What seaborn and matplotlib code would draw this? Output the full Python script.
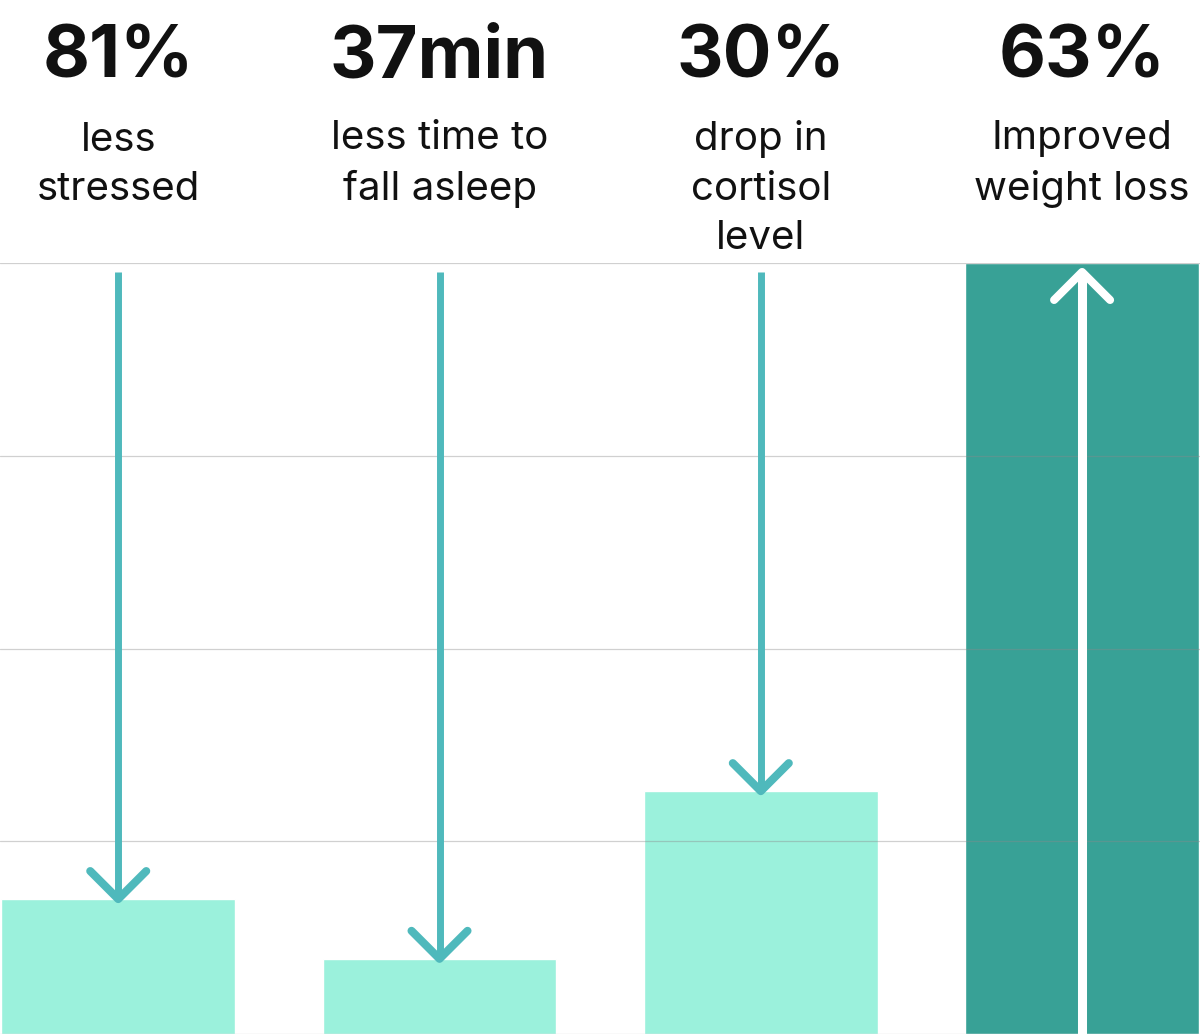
import numpy as np
import pandas as pd
import matplotlib
matplotlib.use("Agg")
import matplotlib.pyplot as plt
import matplotlib.transforms as mtransforms
import seaborn as sns

# ---------------- Data ----------------
headlines = ["81%", "37min", "30%", "63%"]
captions = ["less\nstressed", "less time to\nfall asleep", "drop in\ncortisol\nlevel", "Improved\nweight loss"]
bar_values = [0.70, 0.39, 1.26, 4.0]
directions = ["down", "down", "down", "up"]

df = pd.DataFrame({"metric": headlines, "value": bar_values, "direction": directions})

# ---------------- Style ----------------
sns.set_theme(style="white")
plt.rcParams["font.family"] = ["Inter", "DejaVu Sans"]

MINT = "#9bf1dc"
DARK = "#38a196"
ARROW = "#4fb9bc"
bar_colors = [DARK if d == "up" else MINT for d in directions]

fig = plt.figure(figsize=(12, 10.34), dpi=100)
ax = fig.add_axes([0, 0, 1, 771 / 1034])

sns.barplot(data=df, x="metric", y="value", hue="metric", palette=bar_colors,
            width=0.728, saturation=1, legend=False, ax=ax)

ax.set_xlim(-0.368, 3.367)
ax.set_ylim(0, 4)
ax.set_yticks([0, 1, 2, 3, 4])
ax.set_xticks([])
ax.tick_params(length=0, labelleft=False)
ax.set_xlabel("")
ax.set_ylabel("")
sns.despine(ax=ax, left=True, bottom=True)
ax.yaxis.grid(True, color="#8a8a8a", alpha=0.4, lw=0.9)
ax.set_axisbelow(False)

# ---------------- Arrows ----------------
# pixel -> data helpers (1 category = ~321 px, 1 y unit = ~193 px)
ux = (ax.get_xlim()[1] - ax.get_xlim()[0]) / 1200
uy = 4 / 771
top = 4 - 9 * uy
dx, dy = 28 * ux, 28 * uy

for i, (v, d) in enumerate(zip(bar_values, directions)):
    if d == "down":
        ax.plot([i, i], [top, v], color=ARROW, lw=5.0, solid_capstyle="butt", zorder=3)
        ax.plot([i - dx, i, i + dx], [v + dy, v, v + dy], color=ARROW, lw=5.8,
                solid_capstyle="round", solid_joinstyle="round", zorder=3)
    else:
        ax.plot([i, i], [0, top], color="white", lw=6.5, solid_capstyle="butt", zorder=3)
        ax.plot([i - dx, i, i + dx], [top - dy, top, top - dy], color="white", lw=5.8,
                solid_capstyle="round", solid_joinstyle="round", zorder=3)

# ---------------- Headline texts ----------------
trans = mtransforms.blended_transform_factory(ax.transData, fig.transFigure)
line_px = 49
for i, (h, c) in enumerate(zip(headlines, captions)):
    ax.text(i, 1 - 77 / 1034, h, transform=trans, ha="center", va="baseline",
            fontsize=52, fontweight="bold", color="#111111", clip_on=False)
    # baseline of the last caption line
    last_base = 151 + line_px * c.count("\n")
    ax.text(i, 1 - last_base / 1034, c, transform=trans, ha="center", va="baseline",
            fontsize=29, color="#111111", linespacing=1.43, multialignment="center",
            clip_on=False)

fig.savefig("out.png", dpi=100)
